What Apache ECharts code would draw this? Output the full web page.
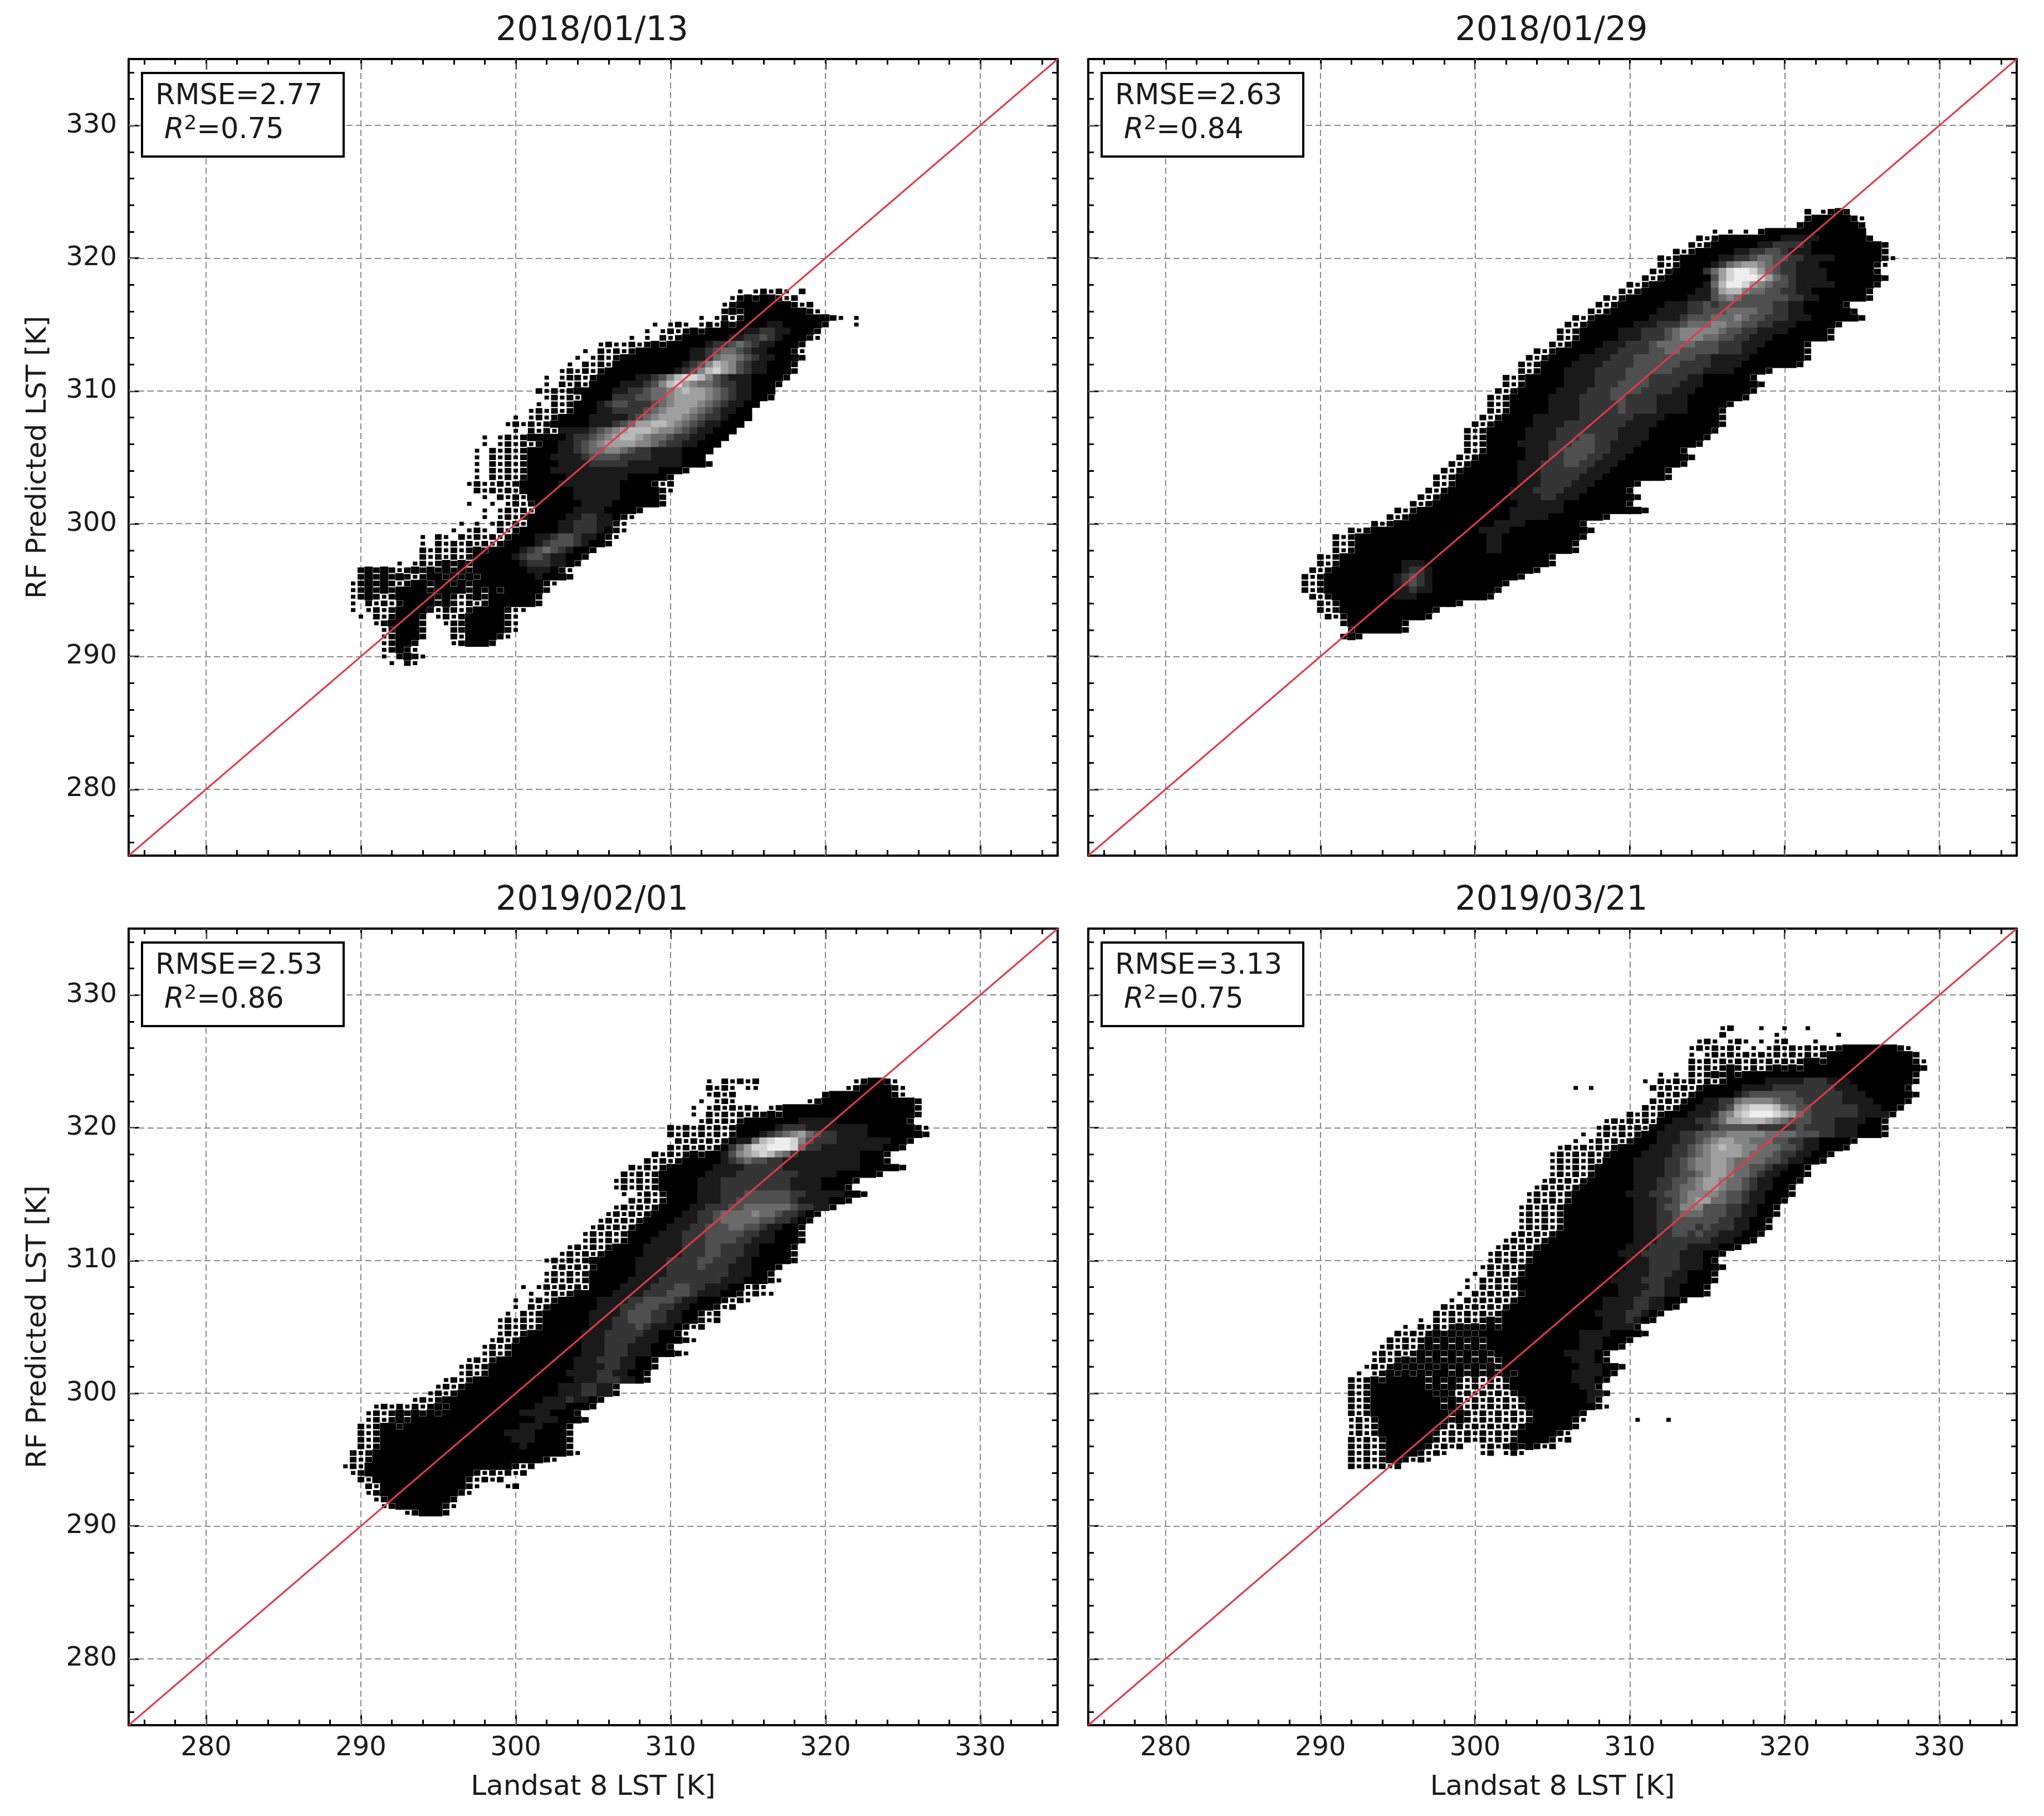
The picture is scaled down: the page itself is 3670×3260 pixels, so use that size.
<!DOCTYPE html>
<html>
<head>
<meta charset="utf-8">
<title>RF Predicted LST vs Landsat 8 LST</title>
<script src="https://cdn.jsdelivr.net/npm/echarts@6/dist/echarts.min.js"></script>
<style>
html, body { margin: 0; padding: 0; background: #fff; }
#main { width: 3670px; height: 3260px; }
</style>
</head>
<body>
<div id="main"></div>
<script>
// chart text and tick values
var panelTitles = ['2018/01/13', '2018/01/29', '2019/02/01', '2019/03/21'];
var rmseLabels = ['RMSE=2.77', 'RMSE=2.63', 'RMSE=2.53', 'RMSE=3.13'];
var r2Labels = ['=0.75', '=0.84', '=0.86', '=0.75'];
var majorTicks = [280, 290, 300, 310, 320, 330];
var minorTicks = [276, 278, 282, 284, 286, 288, 292, 294, 296, 298, 302, 304, 306, 308, 312, 314, 316, 318, 322, 324, 326, 328, 332, 334];
var oneToOne = [[275, 275], [335, 335]];

// density, one row per 0.5 K of predicted LST: [y, first x, cells]
// each cell is 0.5 K wide. space = empty, . and : = sparse, 0-9 = black to white
var rowsA = [
    [317.5, 314.5, ". .:.:. :"],
    [317, 314, ".:0:00:.:"],
    [316.5, 313.5, ".:0000000:.:"],
    [316, 313.5, ":0:00000000:."],
    [315.5, 312, ". .:.:00000000000:. ."],
    [315, 309, ". .:. .:.0:00001100000:   ."],
    [314.5, 308.5, ". .:.:0:00000112211000:"],
    [314, 307.5, ". . :.:0000001122321000:."],
    [313.5, 305.5, ".:..:.:0:00000122343211000:"],
    [313, 304.5, ". :.:.:00000001123443211000:."],
    [312.5, 304, ". .:.:00000000011245543211000:"],
    [312, 303.5, ". :.:.00000000012357653211000:"],
    [311.5, 303, ".:.:.:000000000123578653211000:"],
    [311, 302, ". .::.:000001123578875321110000:"],
    [310.5, 302, ". :.:.000011123578654432211000:"],
    [310, 301.5, ":.:.:00000112234456766543211000"],
    [309.5, 302, ".:.:.000022233445666654321100:"],
    [309, 301.5, ". :.:000123322234566654321100"],
    [308.5, 301, ".:.:.:00011222234566654321100"],
    [308, 300, ". .:.:0000111112345666543221000"],
    [307.5, 299.5, ".:.:.:0000011123466776543211000"],
    [307, 300, ". :.:.11112345677765543211000"],
    [306.5, 298, ". .:.:00000122345677654432211000"],
    [306, 298, ". .:.:.:00112345666655432211000"],
    [305.5, 297.5, ". :.:.:000011234455432211110000"],
    [305, 297.5, ". :.:.:00011112333322221111000"],
    [304.5, 297.5, ". :.:.:00001111222221111111000:"],
    [304, 297.5, ". :.:.:00011111111111111000:"],
    [303.5, 297.5, ". :.:.:000001111111100000:"],
    [303, 297, ".:..:.:00000111111110000:.:"],
    [302.5, 297.5, ":.:.:.000000011111100000:."],
    [302, 298, ". :.:.00000011111100000:"],
    [301.5, 297, ".  . .:.:0000001111000000:"],
    [301, 298, ". .:.:.0000011110000:"],
    [300.5, 298, ". .:.:000001122110:."],
    [300, 296.5, ". . .:.:.00001122211:."],
    [299.5, 296, ". .:. :.:000001122210:."],
    [299, 294, ". :. :.:.:.:000112332110:."],
    [298.5, 294, ". :.:.:.:.:0000123332100:"],
    [298, 294, ":.:.:.:0:0000123432100:"],
    [297.5, 294, ":.:.:.:00000123321100:"],
    [297, 292.5, ". .:.:0:0:0000001222110:"],
    [296.5, 290, ":0:0:.:0:0:0:0:00000001110:."],
    [296, 290, ":0:0:0:.:00:0:0:00000001000:"],
    [295.5, 289.5, ".:0:0:.:00:00:0:000000000:."],
    [295, 289.5, ".:0:0:0000:0000:0:0:00000:"],
    [294.5, 289.5, ".:0:.:00000:0:.:0:000000:"],
    [294, 289.5, ". :.:.:0000:0:.:.:000000:"],
    [293.5, 289.5, ". .:.:0000:.::.:0000:.."],
    [293, 290, ". :.:000: .:.:00000:."],
    [292.5, 291, ".:0000:  .::00000:."],
    [292, 291.5, ".:000:   ::00000:."],
    [291.5, 291.5, ".:000:   :.0000:."],
    [291, 291.5, ".:00:    .:000:"],
    [290.5, 291.5, ".:0:."],
    [290, 291.5, ". :0:."],
    [289.5, 292, ". :."]
];

var rowsB = [
    [323.5, 321.5, ": .:0:"],
    [323, 321.5, ":00000:."],
    [322.5, 321, ":0000000:"],
    [322, 315.5, ". . . :0000000000000"],
    [321.5, 314.5, ":.:0000000011111000000:"],
    [321, 314, ":.:0000001122221000000000:"],
    [320.5, 313, ":.:000001122332111000000000:"],
    [320, 312, ":.:00000112234433221111000000:."],
    [319.5, 312, ":.:0000124566543221110000000:."],
    [319, 311.5, ":.:00002468998643221111000000:"],
    [318.5, 311, ":.:0000003689998643211110000000:"],
    [318, 310, ":.:00000001479986543321111100000:"],
    [317.5, 309.5, ":.:00000001136775443322110000000:"],
    [317, 308.5, ":.:0000000011134543333332211000000:"],
    [316.5, 308, ":.:00000011122323333333221100000:"],
    [316, 307.5, ":.:0000001111223334444332211000000:"],
    [315.5, 306.5, ":.:0000000111123334445433222111000000:"],
    [315, 306, ":.:00000011122234445544332211100000:"],
    [314.5, 305.5, ":.:00000111222345555543322111100000:"],
    [314, 305.5, ":.:00000111222345554433221110000000:"],
    [313.5, 305, ":.:000011122234444433322211100000:"],
    [313, 304, ":.:00000111222233443333322211000000:"],
    [312.5, 303.5, ":.:000011112223333333322111110000000:"],
    [312, 303, ":.:000011112222333333222211110000000:"],
    [311.5, 303, ":.:00011112222333333222211110000:"],
    [311, 302, ":.:00000111122223332222211000000:"],
    [310.5, 302, ":.:000001111222333322221110000000:"],
    [310, 301.5, ":.:000001111222333322221110000000:"],
    [309.5, 301, ":.:000001111222233222211110000000:"],
    [309, 301, ":.:0000011112222232222111100000:"],
    [308.5, 301, ":.:000001111222223222211110000:"],
    [308, 300.5, ":.:0000111111222222211110000000:"],
    [307.5, 300, ":.:00000111122222222111100000000:"],
    [307, 299.5, ":.:00000111122222222111100000000:"],
    [306.5, 299.5, ":.:0000011112223322211110000000:"],
    [306, 299.5, ":.:000011112223332211110000000:"],
    [305.5, 299.5, ":.:0000011122333322111000000:"],
    [305, 299, ":.:000000111223332211100000000:"],
    [304.5, 298.5, ":.:000000111222332211100000000:"],
    [304, 298, ":.:00000001112222221110000000:"],
    [303.5, 297.5, ":.:000000001112222211100000000:"],
    [303, 297.5, ":.:00000000111222211100000:"],
    [302.5, 297, ":.:00000000111222211100000:"],
    [302, 296.5, ":.:0000000001111221110000000:"],
    [301.5, 296, ":.:0000000000011111100000000:"],
    [301, 295, ":.:00000000000011111110000000000:"],
    [300.5, 294.5, ":.:0000000000000111110000000:"],
    [300, 293.5, ":.:000000000000011110000000:"],
    [299.5, 292, ":.:0000000000000011110000000000:"],
    [299, 291, ":.:00000000000000000110000000000:"],
    [298.5, 291, ":.:0000000000000000011000000000:"],
    [298, 291, ":.:0000000000000000011000000000:"],
    [297.5, 290, ":.:000000000000000000000000000:"],
    [297, 290, ":.:000000001110000000000000000:"],
    [296.5, 289.5, ":.:00000000012210000000000000:"],
    [296, 289, ":.:0000000001232100000000000:"],
    [295.5, 289, ":.:00000000012321000000000:"],
    [295, 289, ":.:0000000001121100000000:"],
    [294.5, 289.5, ":.:00000000111000000000:"],
    [294, 290, ":.:000000000000000:"],
    [293.5, 290, ":.:000000000000:"],
    [293, 290.5, ":.:0000000000:"],
    [292.5, 291.5, ":0000000:"],
    [292, 292, ":000000:"],
    [291.5, 291.5, ":0:"]
];

var rowsC = [
    [323.5, 312.5, ". :.:.:            .:00:."],
    [323, 312.5, ":.:. ..           .:0000:."],
    [322.5, 312.5, ".:.:           :00000000:."],
    [322, 312, ". .:.         .:000000000000:"],
    [321.5, 311.5, ". .:.:.:. .:00000000000000000:"],
    [321, 311.5, ". :.:.:.::0:00000000000000000:"],
    [320.5, 312, ".:.:.:000000011111000000000:"],
    [320, 310, ":.:.:.:.:00000122211111111000000:."],
    [319.5, 310, ":.:.:.:.:000123456432211110000000:"],
    [319, 310.5, ":.:.:.:01147899853222111111100:"],
    [318.5, 310, ":.:.:.:02468899984221111111100:"],
    [318, 309, ":.:.:0:00135678754211111111000:"],
    [317.5, 308.5, ":.:.:00000123433221111111111000:"],
    [317, 307.5, ":.:.:000000111122222111111111100000:"],
    [316.5, 307, ":.:.:0000001111222222221111100000:"],
    [316, 306.5, ".:.:.:0000011122222222211110000:"],
    [315.5, 306.5, ".:.:.:000001112222222221111000:"],
    [315, 307, ". .:.:0000111222333333221111100:"],
    [314.5, 307.5, ":.:.:00001112233333332111100:"],
    [314, 306.5, ".:.:.:0000112223344444432211:"],
    [313.5, 306, ".:.:.:000011223444454432210:"],
    [313, 305.5, ".:.:.:000011122344444332210:"],
    [312.5, 305, ".:.:.:000011122333443321100:"],
    [312, 304.5, ".:.:.:0000111222333332211000:"],
    [311.5, 304.5, ".:.:.:0001111222333322111000:"],
    [311, 303.5, ".:.:.:00001111122233222110000:"],
    [310.5, 303, ".:.:.:000001111122233222110000:"],
    [310, 302, ".:.:.:00000011112222332221100000:"],
    [309.5, 302.5, ".:.:.:00000111122223222111000:"],
    [309, 302, ".:.:.:00000011112222222211100:"],
    [308.5, 302, ".:.:.:00000111122222222111000:."],
    [308, 300.5, ". .:.:.:.00001111222332211100.:."],
    [307.5, 301, ". .:.:000001111222333211100:.:.."],
    [307, 300, ". .:.:000001111223333211000:.:."],
    [306.5, 300, ". :.:000000111223332211000:.:"],
    [306, 299.5, ". :.:00000011112333221100:.:"],
    [305.5, 299, ".:.:.:00000011122333221100:.:"],
    [305, 299, ".:.:.:000000111222321110:.:"],
    [304.5, 299, ".:.:0000000111222221100:."],
    [304, 298.5, ".:.:000000001112222111000:."],
    [303.5, 298, ".:.:00000000011122211100:"],
    [303, 298, ".:.:000000000111222111000:."],
    [302.5, 297, ".:.:00000000001112221100:"],
    [302, 296.5, ".:.:000000000001111221100:"],
    [301.5, 296.5, ".:.:00000000001111221100:"],
    [301, 295.5, ".:.:0000000000000111222110:"],
    [300.5, 295, ".:.:0000000000001112211:"],
    [300, 294.5, ".:.:00000000000001112211:"],
    [299.5, 293.5, ".:.:00000000000001112110:"],
    [299, 291, ".:.:.:.:0:000000000001111000:"],
    [298.5, 290.5, ".:.:0:0:0:00000000001111000:"],
    [298, 290.5, ".:.:0:0000000000000000111000:"],
    [297.5, 290, ":.:00:000000000000000111000:"],
    [297, 290, ":.:000000000000000011110000:"],
    [296.5, 290, ":.:000000000000000001110000:"],
    [296, 290, ":.:000000000000000000100000:"],
    [295.5, 289.5, ":.:0000000000000000000000000:."],
    [295, 289.5, ":.:0000000000000000000000:."],
    [294.5, 289, ".:.0000000000000000000:.:"],
    [294, 289.5, ".:00000000000000:.:.:.:"],
    [293.5, 290, ":.000000000000:.:.:"],
    [293, 290.5, ":.00000000000:.   .:"],
    [292.5, 290.5, ".:0000000000:."],
    [292, 291, ".:00000000:"],
    [291.5, 291.5, ".:000000:."],
    [291, 293, ".:000:"]
];

var rowsD = [
    [327.5, 316, ".:   .  .  ."],
    [327, 316, ":      .       ."],
    [326.5, 314.5, ".:. .:. . .:   ."],
    [326, 314, ".:.:.:. . .:.:.:.:.:0000000:."],
    [325.5, 314, ". .:.:.:.:.:.:.:.:00000000000:"],
    [325, 314, ":.:.:.:.:.:.:.:00:00000000000:."],
    [324.5, 314, ":.:.:0:.:.:0:0:000000000000000:"],
    [324, 312, ". . :.:0:0:0000000000000000000000:"],
    [323.5, 311, ". :.:.:.:.:000001111122211100000000:"],
    [323, 306.5, ". .       :.:.:.:00000111122222222111000000:"],
    [322.5, 312, ":.:.:0000012333333222222111000000:"],
    [322, 311.5, ":.:.:0011224555543332222211110000:"],
    [321.5, 311, ":.:.:0011123678887543322222211100:"],
    [321, 310, ":.:.:00011124578999876432222221111:"],
    [320.5, 308.5, ".:.:.:.00111223466777654333222111100:"],
    [320, 308, ".:.:.:.001111122333332222232222111000:"],
    [319.5, 307, ". .:.:.:0011122334455555444433322111000:"],
    [319, 306.5, ". .:.:.:0001112234566554443322110000:"],
    [318.5, 305.5, ".:.:.:.:00001112234567665544433211000:"],
    [318, 305, ".:.:.:.:0000111122345666654443221100:"],
    [317.5, 305, ".:.:.:.0000111122345566544443321100:"],
    [317, 305, ".:.:.:000001111223455665443321100:"],
    [316.5, 305, ".:.:.:000001111223345665443211000:"],
    [316, 304.5, ".:.:.:000000111223345665443211000:"],
    [315.5, 304, ".:.:.:000000011122344566544321100:"],
    [315, 303.5, ".:.:.:0000000111223345555433211000:"],
    [314.5, 303.5, ".:.:.:000000001112234566443321100:"],
    [314, 303, ".:.:.:000000000111233555333221100:"],
    [313.5, 303, ".:.:.:000000000111223444333221100:"],
    [313, 303, ".:.:.:00000000011122333333221100:"],
    [312.5, 303, ".:.:.:00000000011122333232221100:"],
    [312, 302.5, ".:.:.:00000000001112233232211100:"],
    [311.5, 302, ".:.:.:00000000000111222222211100:"],
    [311, 301.5, ".:.:.:0000000000011122222111100:"],
    [310.5, 301, ".:.:.:000000000001112222211100:"],
    [310, 301, ".:.:.:00000000000011122221110:"],
    [309.5, 300.5, ".:.:.:0000000000000111222211100:"],
    [309, 300, ". :.:.:000000000000111122211000:"],
    [308.5, 299.5, ". :.:.:0000000000001111222111000:"],
    [308, 299.5, ". :.:.:000000000000011112211000:"],
    [307.5, 299, ". :.:.:.:00000000000011122211000:"],
    [307, 298.5, ". :.:.:.:000000000001111221100:"],
    [306.5, 298, ":.:.:.:.:000000000000111122110:"],
    [306, 297.5, ":.:.:.:.:00000000000011112210:"],
    [305.5, 296.5, ". :.:.:.:0:0000000000000111210:"],
    [305, 295.5, ". :.:.:0:0:0:00000000000001111:"],
    [304.5, 295, ":.:.:0:0:0:000000000000011110000:"],
    [304, 294.5, ":.:.:0:0:0:0:000000000000111000:"],
    [303.5, 294, ".:.:.:0:0:0:0:00000000000011100:"],
    [303, 293.5, ".:.:.:0:0:0:0:0:00000000011110:"],
    [302.5, 293.5, ".:.:0:0:0:0:0:0::0000000001110:"],
    [302, 293, ".:.:0:0:0:0:0:0:0:000000000011100:"],
    [301.5, 292.5, ". .:0:0:0:00:0:0:0:0:000000011110:"],
    [301, 292, ":.:0:00000:0:0:.:.:.:000000001110:"],
    [300.5, 292, ":.:0000000:0:0:.:.:.:00000000011:"],
    [300, 292, ":.:00000000:0:.:.:.:.:00000000011:"],
    [299.5, 292, ":.:000000000:0:.:.:.:.:000000001:"],
    [299, 292, ":.:000000000:0:.:.:.:.:000000000:."],
    [298.5, 292, ":.:0000000000:0:.:.:.:.:000000:"],
    [298, 292, ".:.:000000000:0:.:.:.:.:00000:.      .   ."],
    [297.5, 292, ".:.:00000000:.:.:.:.:.:000000:"],
    [297, 292, ".:.:0000000:.:.:.:.:.:00000:."],
    [296.5, 292, ":.:.:000000:.:.:.:.:.:0000:.:"],
    [296, 292, ":.:.:00000:.:.:  .:.:0:0:.:"],
    [295.5, 292, ":.:.:0000:.:.    .: .:."],
    [295, 292, ":.:.:00:.:."],
    [294.5, 292, ":.:.:.:"]
];

var densityRows = [rowsA, rowsB, rowsC, rowsD];

// panel boxes in page pixels
var panelBoxes = [
    { left: 231, top: 106, width: 1668, height: 1430 },
    { left: 1954, top: 106, width: 1667, height: 1430 },
    { left: 231, top: 1667, width: 1668, height: 1430 },
    { left: 1954, top: 1667, width: 1667, height: 1430 }
];
var cellSizes = { full: [15, 13], medium: [12, 10], small: [8, 7] };
var fontName = 'DejaVu Sans';
var textColor = '#1a1a1a';

function toCells(rows) {
    var cells = [];
    rows.forEach(function (row) {
        for (var i = 0; i < row[2].length; i++) {
            var c = row[2].charAt(i);
            if (c === ' ') continue;
            var x = row[1] + i * 0.5;
            if (c === '.') cells.push([x, row[0], 0, 2]);
            else if (c === ':') cells.push([x, row[0], 0, 1]);
            else cells.push([x, row[0], Number(c), 0]);
        }
    });
    return cells;
}

function cellSize(val) {
    if (val[3] === 2) return cellSizes.small;
    if (val[3] === 1) return cellSizes.medium;
    return cellSizes.full;
}

function makeAxis(gridIndex, position, ticks, tickLength, showLine, labels, name) {
    var isY = position === 'left' || position === 'right';
    var axis = {
        type: 'value',
        gridIndex: gridIndex,
        position: position,
        min: 275,
        max: 335,
        scale: true,
        axisLine: { show: showLine, onZero: false, lineStyle: { color: '#000', width: 4 } },
        axisTick: { show: true, inside: true, length: tickLength, customValues: ticks, lineStyle: { color: '#000', width: 3 } },
        axisLabel: { show: false },
        splitLine: { show: false },
        splitArea: { show: false }
    };
    if (labels) {
        axis.axisLabel = {
            show: true,
            customValues: majorTicks,
            margin: isY ? 21 : 18,
            fontSize: 48,
            fontFamily: fontName,
            color: textColor,
            formatter: function (v) { return String(v); }
        };
        if (isY) {
            axis.axisLabel.verticalAlignMinLabel = 'middle';
            axis.axisLabel.verticalAlignMaxLabel = 'middle';
        } else {
            axis.axisLabel.alignMinLabel = 'center';
            axis.axisLabel.alignMaxLabel = 'center';
        }
    }
    if (name) {
        axis.name = name;
        axis.nameLocation = 'middle';
        axis.nameGap = isY ? 137 : 87;
        axis.nameTextStyle = { fontSize: 50, fontFamily: fontName, color: textColor };
    }
    return axis;
}

var grids = [], titles = [], xAxes = [], yAxes = [], series = [], graphics = [], densityIndexes = [];

panelBoxes.forEach(function (box, i) {
    var bottomRow = i >= 2;
    var leftCol = i % 2 === 0;
    grids.push({ left: box.left, top: box.top, width: box.width, height: box.height, containLabel: false, show: false });
    titles.push({
        text: panelTitles[i],
        left: box.left + box.width / 2 - 7,
        top: box.top - 85,
        textAlign: 'center',
        textStyle: { fontSize: 60, fontWeight: 'normal', fontFamily: fontName, color: textColor }
    });

    // four axes a side: major ticks and minor ticks on each edge
    var xBase = xAxes.length, yBase = yAxes.length;
    xAxes.push(makeAxis(i, 'bottom', majorTicks, 19, true, bottomRow, bottomRow ? 'Landsat 8 LST [K]' : null));
    xAxes.push(makeAxis(i, 'top', majorTicks, 19, true));
    xAxes.push(makeAxis(i, 'bottom', minorTicks, 10, false));
    xAxes.push(makeAxis(i, 'top', minorTicks, 10, false));
    yAxes.push(makeAxis(i, 'left', majorTicks, 19, true, leftCol, leftCol ? 'RF Predicted LST [K]' : null));
    yAxes.push(makeAxis(i, 'right', majorTicks, 19, true));
    yAxes.push(makeAxis(i, 'left', minorTicks, 10, false));
    yAxes.push(makeAxis(i, 'right', minorTicks, 10, false));

    // dashed grid under the points
    var gridLines = [];
    majorTicks.forEach(function (t) {
        gridLines.push({ xAxis: t });
        gridLines.push({ yAxis: t });
    });
    series.push({
        type: 'scatter',
        xAxisIndex: xBase,
        yAxisIndex: yBase,
        data: [],
        silent: true,
        z: 1,
        markLine: {
            silent: true,
            symbol: 'none',
            animation: false,
            z: 1,
            label: { show: false },
            lineStyle: { type: [11, 6], color: '#8a8a8a', width: 2 },
            data: gridLines
        }
    });

    densityIndexes.push(series.length);
    series.push({
        type: 'scatter',
        xAxisIndex: xBase,
        yAxisIndex: yBase,
        data: toCells(densityRows[i]),
        symbol: 'rect',
        symbolSize: cellSize,
        itemStyle: { opacity: 1 },
        progressive: 0,
        silent: true,
        z: 3,
        encode: { x: 0, y: 1 }
    });

    series.push({
        type: 'line',
        xAxisIndex: xBase,
        yAxisIndex: yBase,
        data: oneToOne,
        symbol: 'none',
        silent: true,
        z: 4,
        lineStyle: { color: '#e23a4c', width: 3 }
    });

    // RMSE / R2 box
    graphics.push({
        type: 'rect',
        z: 100,
        shape: { x: box.left + 24, y: box.top + 25, width: 362, height: 150 },
        style: { fill: '#fff', stroke: '#000', lineWidth: 4 }
    });
    graphics.push({
        type: 'text',
        z: 101,
        x: box.left + 48,
        y: box.top + 68,
        style: { text: rmseLabels[i], fontSize: 51, fontFamily: fontName, fill: textColor, verticalAlign: 'middle' }
    });
    graphics.push({
        type: 'text',
        z: 101,
        x: box.left + 64,
        y: box.top + 129,
        style: {
            text: '{i|R}{s|2}{n|' + r2Labels[i] + '}',
            fill: textColor,
            verticalAlign: 'middle',
            rich: {
                i: { fontSize: 51, fontStyle: 'italic', fontFamily: fontName, fill: textColor },
                s: { fontSize: 36, fontFamily: fontName, fill: textColor, verticalAlign: 'top', lineHeight: 60 },
                n: { fontSize: 51, fontFamily: fontName, fill: textColor }
            }
        }
    });
});

var myChart = echarts.init(document.getElementById('main'), null, { renderer: 'canvas' });
myChart.setOption({
    animation: false,
    backgroundColor: '#fff',
    title: titles,
    grid: grids,
    xAxis: xAxes,
    yAxis: yAxes,
    visualMap: {
        show: false,
        type: 'continuous',
        dimension: 2,
        min: 0,
        max: 9,
        seriesIndex: densityIndexes,
        inRange: { color: ['#000000', '#eeeeee'] }
    },
    series: series,
    graphic: graphics
});
</script>
</body>
</html>
